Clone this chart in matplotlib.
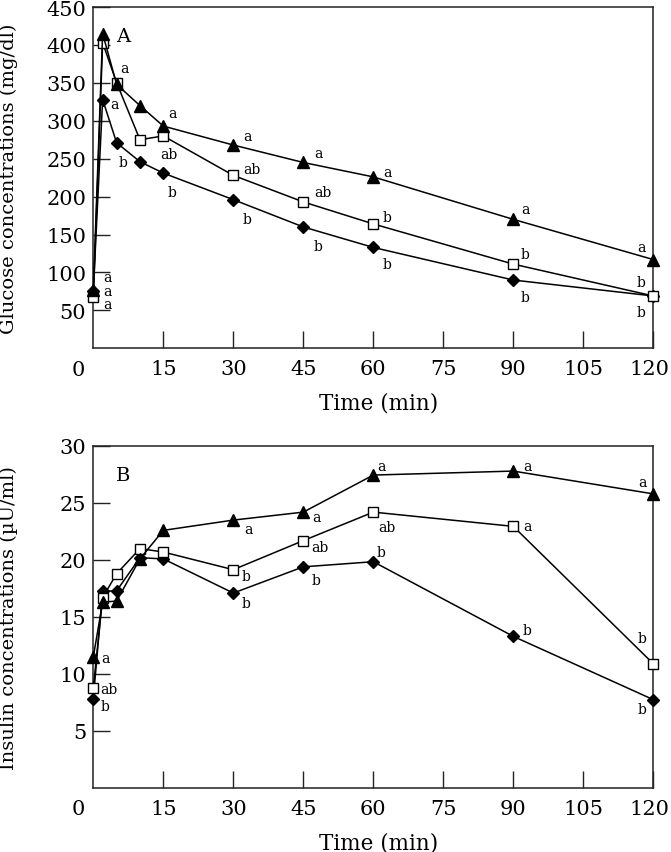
import matplotlib
matplotlib.use("Agg")
import matplotlib.pyplot as plt
from matplotlib.transforms import ScaledTranslation

plt.rcParams['font.family'] = ['DejaVu Serif']

# ---- data ----
time = [0, 2, 5, 10, 15, 30, 45, 60, 90, 120]

glu_tri = [77, 415, 348, 320, 293, 268, 245, 226, 170, 117]
glu_sq = [67, 403, 350, 275, 280, 228, 193, 164, 111, 69]
glu_dia = [75, 328, 271, 246, 231, 196, 160, 133, 90, 69]

ins_tri = [11.5, 16.3, 16.4, 20.1, 22.6, 23.5, 24.2, 27.45, 27.8, 25.8]
ins_sq = [8.8, 16.7, 18.8, 21.0, 20.7, 19.15, 21.7, 24.2, 22.95, 10.9]
ins_dia = [7.8, 17.25, 17.3, 20.2, 20.1, 17.1, 19.4, 19.85, 13.3, 7.75]

# significance letters per time point
glu_tri_let = ['a', '', '', '', 'a', 'a', 'a', 'a', 'a', 'a']
glu_sq_let = ['a', '', 'a', '', 'ab', 'ab', 'ab', 'b', 'b', 'b']
glu_dia_let = ['a', 'a', 'b', '', 'b', 'b', 'b', 'b', 'b', 'b']

ins_tri_let = ['a', '', '', '', '', 'a', 'a', 'a', 'a', 'a']
ins_sq_let = ['ab', '', '', '', '', 'b', 'ab', 'ab', 'a', 'b']
ins_dia_let = ['b', '', '', '', '', 'b', 'b', 'b', 'b', 'b']

glu_yticks = [50, 100, 150, 200, 250, 300, 350, 400, 450]
ins_yticks = [5, 10, 15, 20, 25, 30]
xticks = [15, 30, 45, 60, 75, 90, 105, 120]

# ---- label offsets (pixels) ----
glu_tri_off = [(14, 13), None, None, None, (9, 13), (14, 9), (15, 9), (14, 5), (12, 10), (-12, 13)]
glu_sq_off = [(14, -7), None, (8, 15), None, (6, -18), (19, 6), (20, 10), (14, 7), (12, 10), (-12, 14)]
glu_dia_off = [(14, 0), (12, -4), (6, -19), None, (9, -19), (14, -19), (15, -19), (14, -17), (12, -17), (-12, -16)]

ins_tri_off = [(12, -1), None, None, None, None, (15, -9), (13, -5), (8, 9), (14, 5), (-11, 12)]
ins_sq_off = [(16, -1), None, None, None, None, (13, -6), (17, -6), (14, -15), (14, 0), (-11, 26)]
ins_dia_off = [(12, -7), None, None, None, None, (13, -10), (13, -13), (8, 10), (14, 6), (-11, -9)]

W, H = 671, 853
fig = plt.figure(figsize=(W / 100, H / 100), dpi=100)


def px_axes(left, right, top, bottom):
    return fig.add_axes([left / W, 1 - bottom / H, (right - left) / W, (bottom - top) / H])


ax1 = px_axes(93.3, 653.3, 8, 349.3)
ax2 = px_axes(93.3, 653.3, 447, 789)

TICK_FS = 15
LET_FS = 10
lw = 1.1


def draw_panel(ax, tri, sq, dia, lets, offs, yticks, ylim, ylabel, panel):
    ax.plot(time, dia, color='black', lw=lw, marker='D', ms=6.2, mfc='black',
            mec='black', clip_on=False, zorder=3)
    ax.plot(time, sq, color='black', lw=lw, marker='s', ms=7.5, mfc='white',
            mec='black', mew=1.0, clip_on=False, zorder=4)
    ax.plot(time, tri, color='black', lw=lw, marker='^', ms=8.5, mfc='black',
            mec='black', clip_on=False, zorder=5)
    for series, let, off in zip((tri, sq, dia), lets, offs):
        for t, v, l, o in zip(time, series, let, off):
            if l and o is not None:
                ax.annotate(l, xy=(t, v), xytext=o, textcoords='offset pixels',
                            ha='center', va='center', fontsize=LET_FS,
                            annotation_clip=False)
    ax.set_xlim(0, 120)
    ax.set_ylim(*ylim)
    ax.set_xticks(xticks)
    ax.set_xticklabels([str(x) for x in xticks])
    ax.set_yticks(yticks)
    ax.set_yticklabels([str(y) for y in yticks])
    ax.tick_params(axis='both', direction='in', length=12, width=1.0,
                   labelsize=TICK_FS, color='#222222')
    ax.tick_params(axis='x', pad=8)
    ax.tick_params(axis='y', pad=5)
    last = ax.get_xticklabels()[-1]
    last.set_transform(last.get_transform() + ScaledTranslation(-4 / 100, 0, fig.dpi_scale_trans))
    for s in ax.spines.values():
        s.set_linewidth(1.1)
        s.set_color('#222222')
    ax.annotate('0', xy=(0, 0), xycoords='axes fraction', xytext=(-15, -21),
                textcoords='offset pixels', ha='center', va='center',
                fontsize=TICK_FS)
    ax.set_xlabel('Time (min)', fontsize=15.5)
    ax.xaxis.set_label_coords(0.51, -0.126)
    ax.set_ylabel(ylabel, fontsize=14)
    ax.yaxis.set_label_coords(-0.135, 0.5)
    ax.text(0.053, 0.915, panel, transform=ax.transAxes, fontsize=14,
            ha='center', va='center')


draw_panel(ax1, glu_tri, glu_sq, glu_dia,
           (glu_tri_let, glu_sq_let, glu_dia_let),
           (glu_tri_off, glu_sq_off, glu_dia_off),
           glu_yticks, (0, 450), 'Glucose concentrations (mg/dl)', 'A')
draw_panel(ax2, ins_tri, ins_sq, ins_dia,
           (ins_tri_let, ins_sq_let, ins_dia_let),
           (ins_tri_off, ins_sq_off, ins_dia_off),
           ins_yticks, (0, 30), 'Insulin concentrations (µU/ml)', 'B')

fig.savefig('out.png', dpi=100)
